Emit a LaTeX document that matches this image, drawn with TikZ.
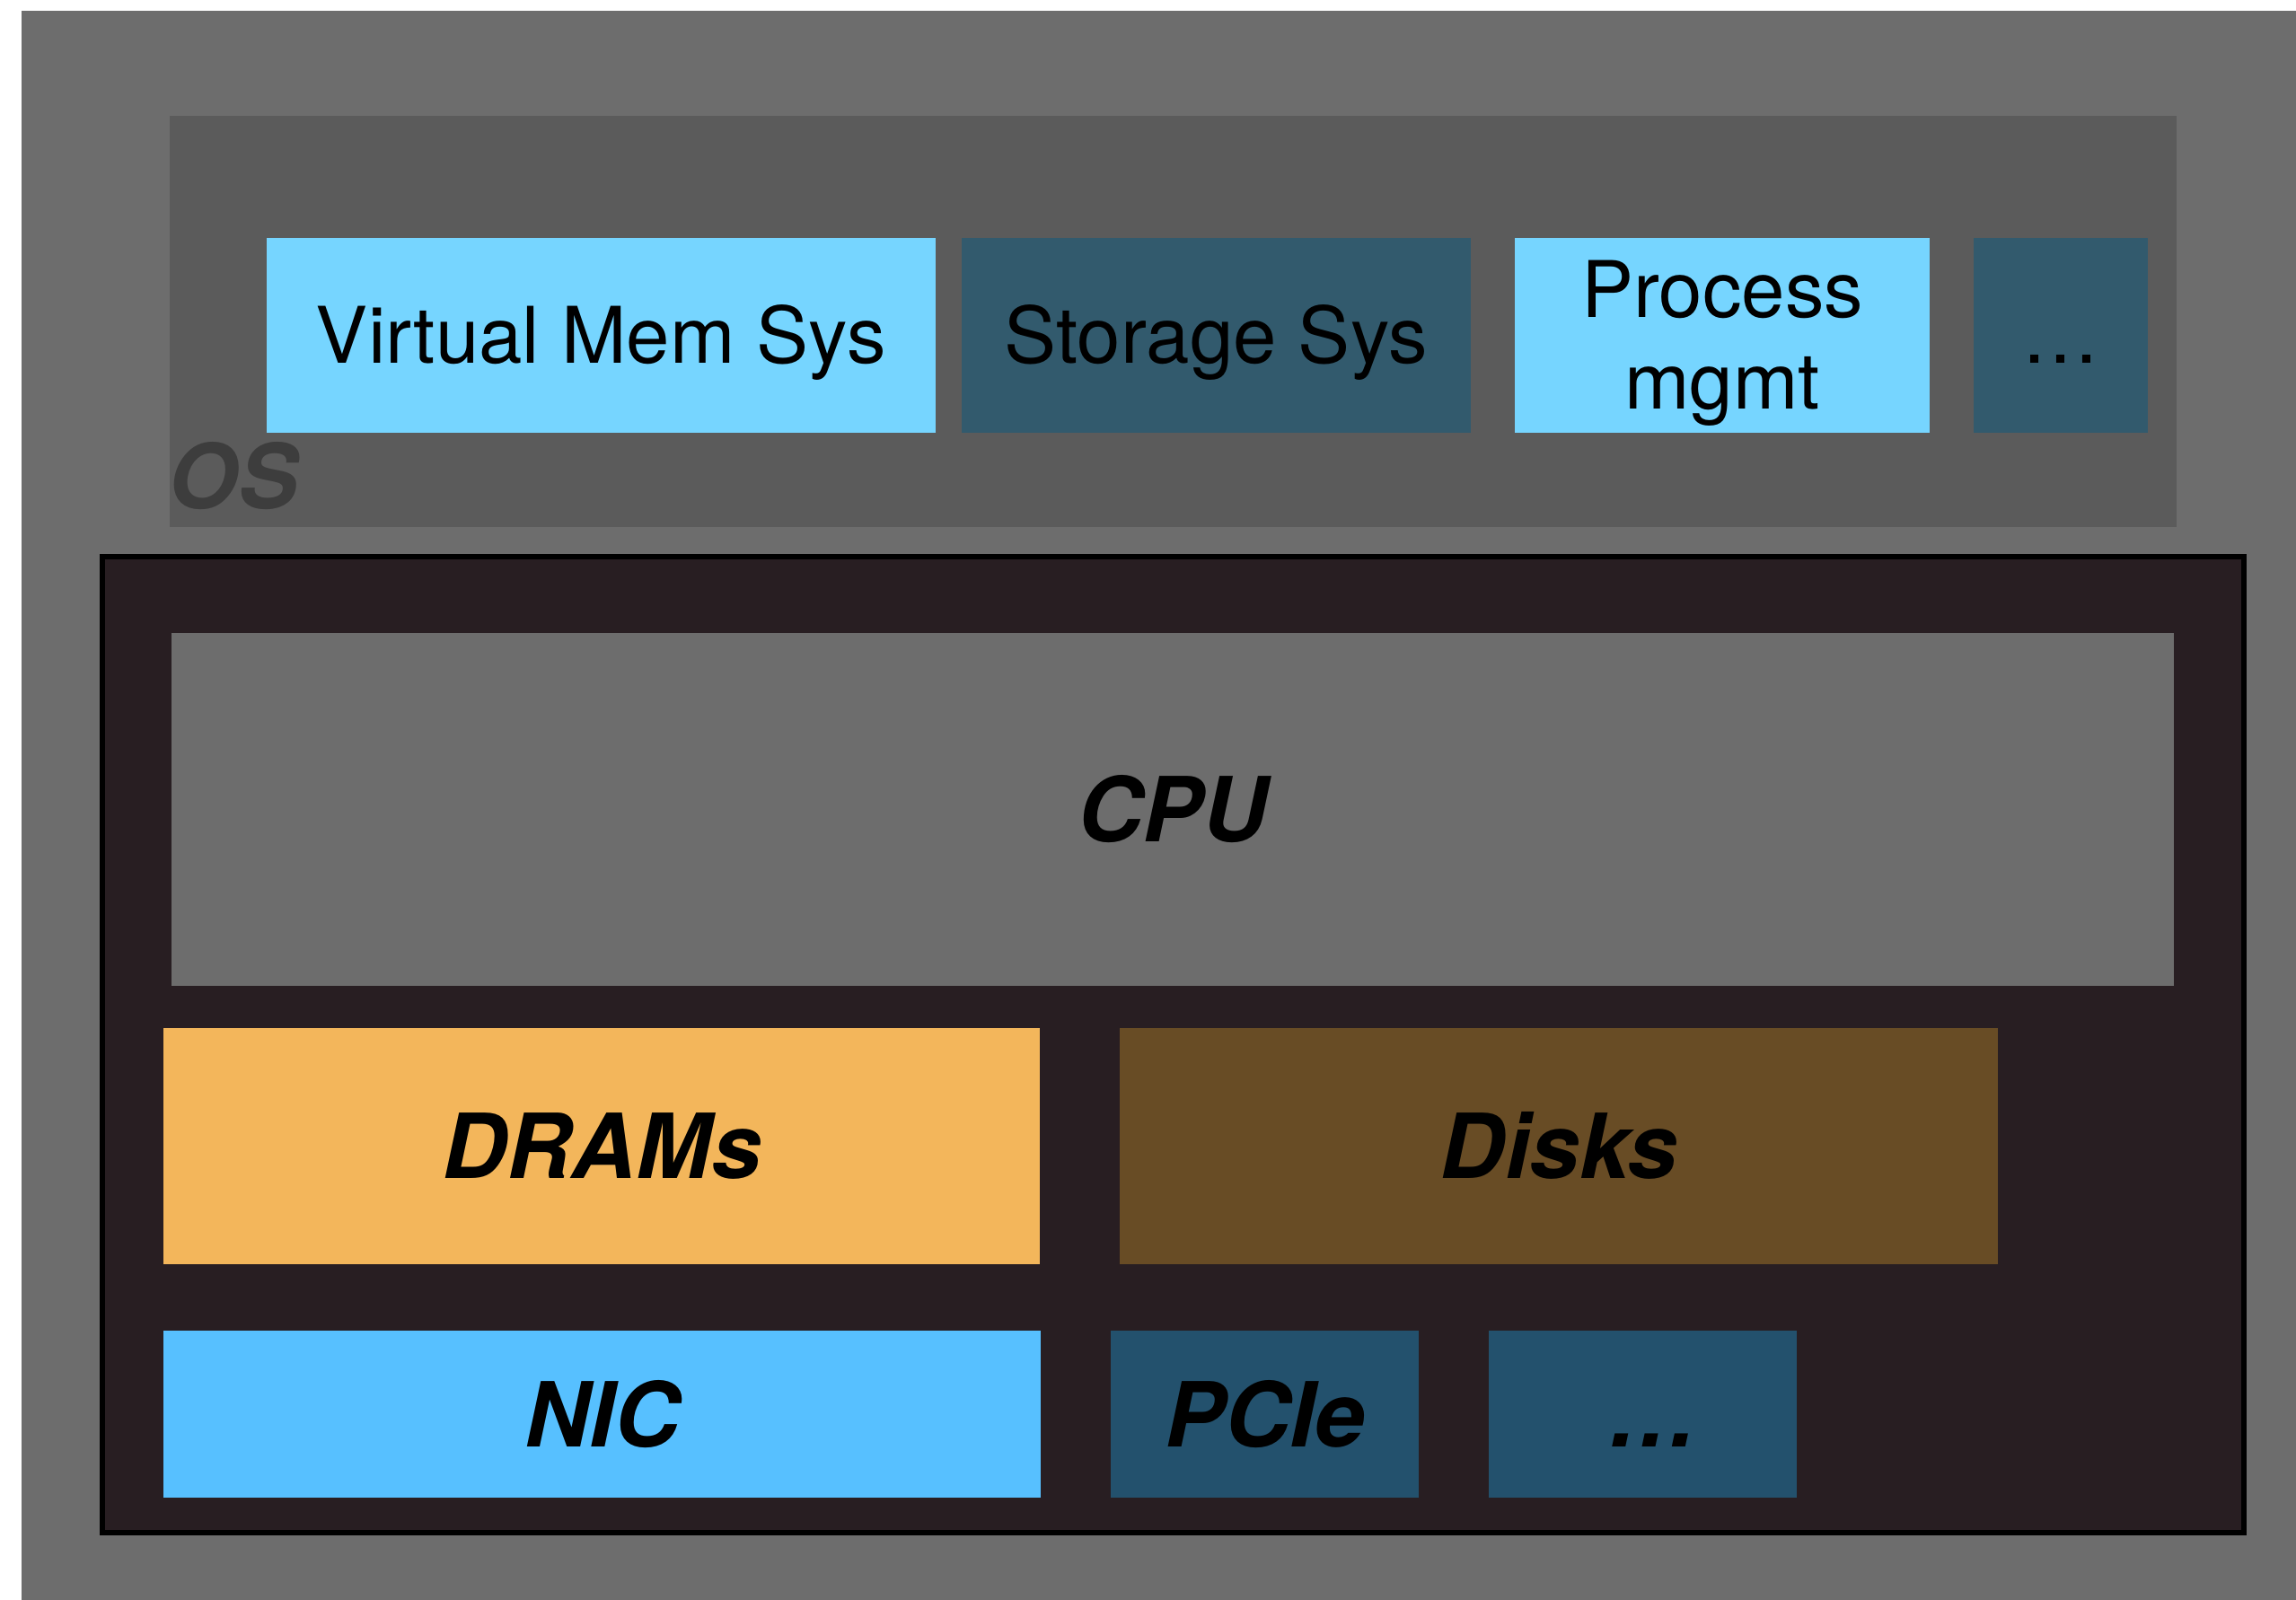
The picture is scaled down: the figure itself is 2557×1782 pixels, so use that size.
\documentclass[tikz,border=0pt]{standalone}
\usepackage{fontspec}
\setsansfont{TeX Gyre Heros}
\definecolor{bggray}{HTML}{6D6D6D}
\definecolor{osgray}{HTML}{5B5B5B}
\definecolor{oslabel}{HTML}{3D3D3D}
\definecolor{lightblue}{HTML}{76D5FF}
\definecolor{darkteal}{HTML}{325A6D}
\definecolor{framefill}{HTML}{281E22}
\definecolor{cpugray}{HTML}{6D6D6D}
\definecolor{dramorange}{HTML}{F3B65B}
\definecolor{diskbrown}{HTML}{684C25}
\definecolor{nicblue}{HTML}{57C0FF}
\definecolor{pcieblue}{HTML}{23516D}
\begin{document}
\begin{tikzpicture}[x=1pt,y=-1pt,
  box/.style={draw=none, inner sep=0pt, outer sep=0pt, anchor=center},
  swlab/.style={font=\sffamily\fontsize{87}{102}\selectfont, text height=62pt, text depth=0pt, align=center},
  hwlab/.style={font=\sffamily\bfseries\itshape\fontsize{100}{120}\selectfont, text height=72pt, text depth=0pt}]
\useasboundingbox (0,0) rectangle (2557,1782);
\fill[white] (0,0) rectangle (2557,1782);
\fill[bggray] (24,12) rectangle (2557,1782);
% OS layer
\node[box, fill=osgray, minimum width=2235pt, minimum height=458pt] (os) at (1306.5,358) {};
\node[anchor=base west, inner sep=0pt, text=oslabel, font=\sffamily\bfseries\itshape\fontsize{100}{120}\selectfont] (oslbl) at (187,566) {OS};
\node[box, swlab, fill=lightblue, minimum width=745pt, minimum height=217pt] (vm) at (669.5,373.5) {Virtual Mem Sys};
\node[box, swlab, fill=darkteal, minimum width=567pt, minimum height=217pt] (storage) at (1354.5,373.5) {Storage Sys};
\node[box, swlab, text height=164pt, fill=lightblue, minimum width=462pt, minimum height=217pt] (proc) at (1918,373.5) {Process\\mgmt};
\node[box, swlab, fill=darkteal, minimum width=194pt, minimum height=217pt] (swdots) at (2295,373.5) {…};
% Hardware
\node[box, draw=black, line width=6pt, fill=framefill, minimum width=2385pt, minimum height=1087pt] (hw) at (1306.5,1163.5) {};
\node[box, hwlab, fill=cpugray, minimum width=2230pt, minimum height=393pt] (cpu) at (1306,901.5) {CPU};
\node[box, hwlab, fill=dramorange, minimum width=976pt, minimum height=263pt] (dram) at (670,1276.5) {DRAMs};
\node[box, hwlab, fill=diskbrown, minimum width=978pt, minimum height=263pt] (disks) at (1736,1276.5) {Disks};
\node[box, hwlab, fill=nicblue, minimum width=977pt, minimum height=186pt] (nic) at (670.5,1575) {NIC};
\node[box, hwlab, fill=pcieblue, minimum width=343pt, minimum height=186pt] (pcie) at (1408.5,1575) {PCIe};
\node[box, hwlab, fill=pcieblue, minimum width=343pt, minimum height=186pt] (hwdots) at (1829.5,1575) {\hspace*{22pt}…};
\end{tikzpicture}
\end{document}
